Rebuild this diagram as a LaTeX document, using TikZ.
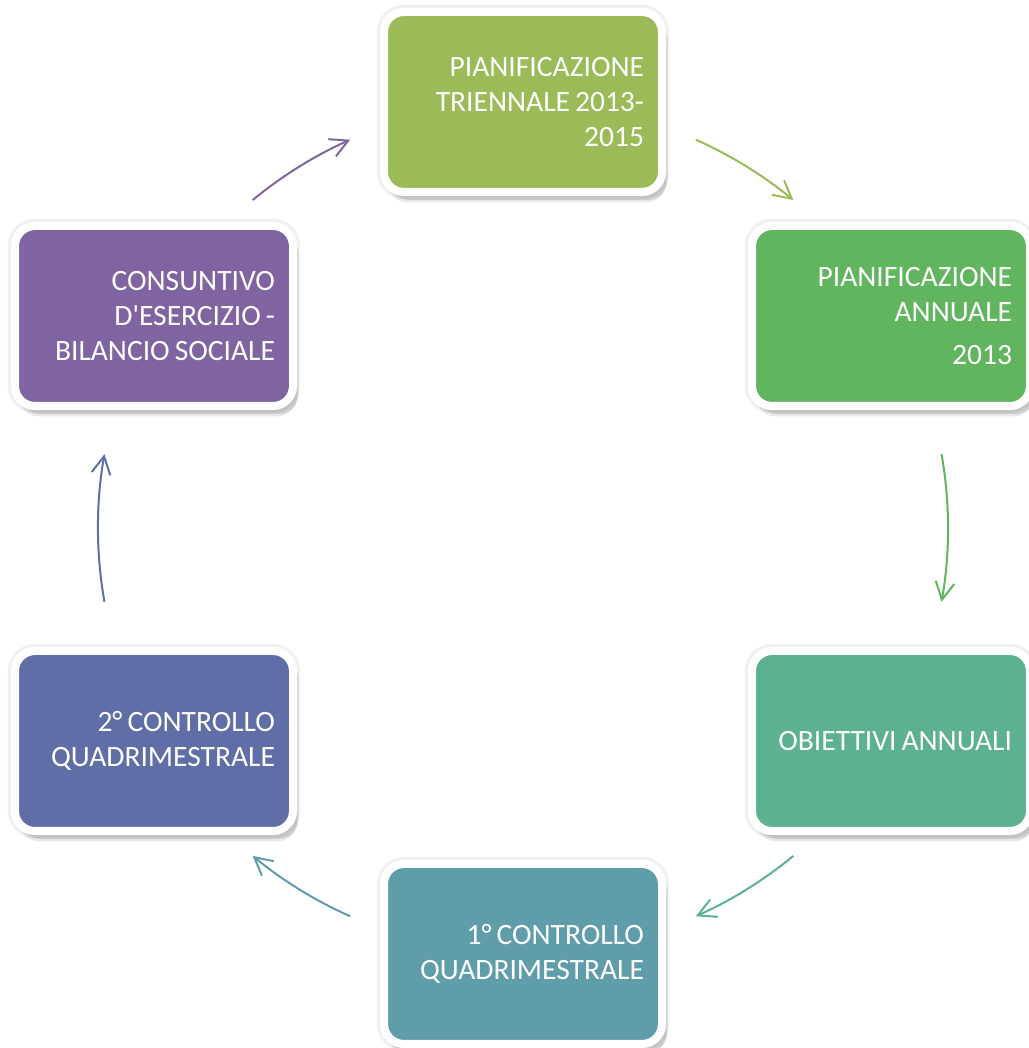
\documentclass[tikz,border=0pt]{standalone}
\usepackage{fontspec}
\setmainfont{Carlito}
\usetikzlibrary{arrows.meta,shadows,calc}

\definecolor{fase1}{RGB}{155,187,89}
\definecolor{fase2}{RGB}{96,181,94}
\definecolor{fase3}{RGB}{92,178,143}
\definecolor{fase4}{RGB}{95,157,171}
\definecolor{fase5}{RGB}{96,110,168}
\definecolor{fase6}{RGB}{128,100,162}

\begin{document}
\begin{tikzpicture}[
        fase/.style={draw=white, line width=0.2cm, rounded corners=0.5cm,
            minimum width=6.95cm, minimum height=4.5cm, text width=6.05cm,
            inner xsep=0.45cm, align=right, text=white,
            font=\fontsize{21}{25}\selectfont,
            execute at begin node={\spaceskip=0.17em\relax},
            preaction={draw=black, opacity=0.06, line width=0.36cm},
            drop shadow={shadow xshift=0.14cm, shadow yshift=-0.2cm, fill=black!60, opacity=0.2},
            drop shadow={shadow xshift=0.1cm, shadow yshift=-0.26cm, fill=black!60, opacity=0.15}},
        freccia/.style={line width=0.05cm, -{Straight Barb[length=0.44cm,width=0.47cm]}}
    ]
            \useasboundingbox (0,0) rectangle (25.725,26.2);
            \coordinate (centro) at (13.075,13.0);

            \node[fase, fill=fase1] (triennale) at (13.075,23.65) {PIANIFICAZIONE\\TRIENNALE 2013-\\2015};
            \node[fase, fill=fase2] (annuale) at (22.275,18.3) {PIANIFICAZIONE\\ANNUALE\\[6pt]2013};
            \node[fase, fill=fase3] (obiettivi) at (22.275,7.675) {OBIETTIVI ANNUALI};
            \node[fase, fill=fase4] (primo) at (13.075,2.35) {1° CONTROLLO\\QUADRIMESTRALE};
            \node[fase, fill=fase5] (secondo) at (3.85,7.675) {2° CONTROLLO\\QUADRIMESTRALE};
            \node[fase, fill=fase6] (consuntivo) at (3.85,18.3) {CONSUNTIVO\\D\textquotesingle ESERCIZIO -\\BILANCIO SOCIALE};

            \foreach \i/\a/\b in {1/66/50.5, 2/10/-10, 3/-50.5/-66, 4/246/230.5, 5/190/170, 6/129.5/114} {
                \coordinate (da\i) at ($(centro)+(\a:10.625)$);
                \draw[freccia, color=fase\i] (da\i) arc[start angle=\a, end angle=\b, radius=10.625];
            }
        \end{tikzpicture}
\end{document}
